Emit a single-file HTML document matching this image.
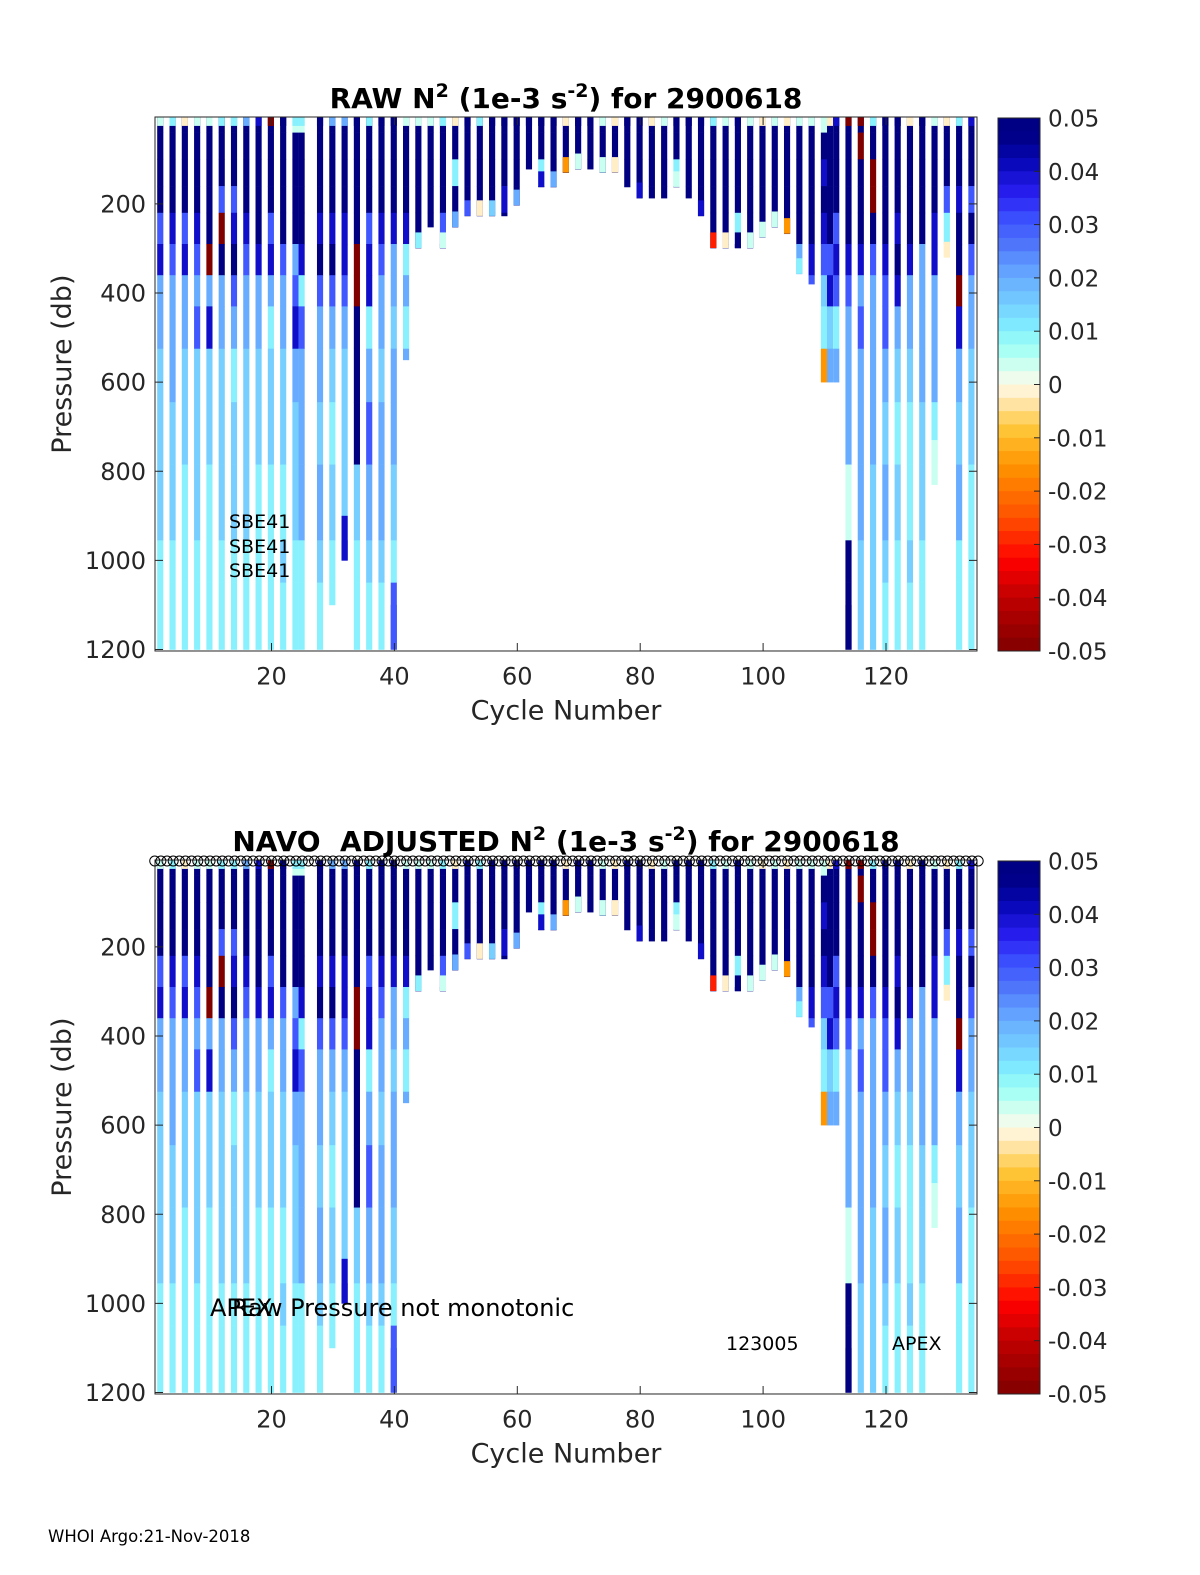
<!DOCTYPE html>
<html><head><meta charset="utf-8"><style>
html,body{margin:0;padding:0;background:#fff;}
svg{display:block;font-family:"DejaVu Sans","Liberation Sans",sans-serif;}
</style></head><body>
<svg id="fig" width="1200" height="1575" viewBox="0 0 1200 1575" xmlns="http://www.w3.org/2000/svg">
<text x="48" y="1542" font-size="16.5">WHOI Argo:21-Nov-2018</text>
</svg>
<script>
const cycles=[1,3,5,7,9,11,13,15,17,19,21,23,24,27,29,31,33,35,37,39,41,
43,45,47,49,51,53,55,57,59,61,63,65,67,69,71,73,75,77,79,81,83,85,87,89,91,93,95,97,99,101,103,105,107,
109,110,111,113,115,117,119,121,123,125,127,129,131,133];
const maxDepth=[1200,1200,1200,1200,1200,1200,1200,1200,1200,1200,1200,1200,1200,1200,1100,1000,1200,1200,1200,1200,550,
299,252,299,252,227,227,227,227,203,122,162,162,130,122,122,130,130,162,187,187,187,162,187,227,299,299,299,299,275,252,267,357,380,
600,600,600,1200,1200,1200,1200,1200,1200,1200,830,320,1200,1200];
const depthEdges=[5,40,100,160,220,290,360,430,525,645,785,955,1050,1200];
const profiles=["NNNNMBLLSSSCC","NNNNBMLLLSSCC","NNNNMBLLSSCCC","NNNNBMLMSSSCC","NNNNNDLBSSCCC","NNNMDNLLSSSCC",
"NNNMBNMLCSSCC","NNNNBMLLSSSCC","NNNNNBLLSSCCC","NNNNMBLCSSCCC","NNNNNMLLSSCSC","PNNNNLMBLSSCC","PNNNNBCMLLLCC",
"NNNNBNMLLSLSC","NNNNBNMLSCSCC","NNNNBBMLSSSBC","NNNNNDDNNNSCC","NNNNMBBCLMLSC","NNNNBMLLSLLSC","NNNNBLLSLLSCM","NNNNBCLCLLLLL",
"NNNNNNN","NNNNNNN","NNNNMNN","NNCNNNN","NNNNNNN","NNNNNNN","NNNNNNN","NNNBNNN","NNNNNNN","NNNNNNN","NNCNNNN",
"NNNNNNN","NNNNNNN","NNNNNNN","NNNNNNN","NNNNNNN","NNNNNNN","NNNNNNN","NNNNNNN","NNNNNNN","NNNNNNN","NNCNNNN",
"NNNNNNN","NNNNNNN","NNNNNNN","NNNNNNN","NNNNCNN","NNNNNNN","NNNNNNN","NNNNNNN","NNNNNNN","NNNNNLC","NNNNNBM",
"PNBNBMSCOOO","NNNNNMBSLLL","NNNNMBMCLLL","NNNNNBMLLLPNN","NDNNNBLMLLLSS","NNDDNMLLLLSSS","NNNNNBMMLSLSC",
"NNNNBNBLSCSCC","NNNNNBLLSCCSC","NNNNNLLLLSSCC","NNNNBBLLLCPPP","NNNMCWW","NNNBNNDBLSLCC","NNNMNMLLSSCCC"];
const bottomCodes=["-","-","-","-","-","-","-","-","-","-","-","-","-","-","-","B","-","-","-","M","-",
"C","-","P","L","M","W","S","-","L","-","B","L","O","P","-","P","W","-","B","-","-","P","-","B","R","W","N","P","P","P","O","C","-",
"-","-","-","N","-","-","-","-","-","-","P","W","-","-"];
const topCodes=["P","C","W","P","P","C","C","L","B","D","N","C","C","N","L","L","N","C","N","N","P",
"P","P","C","W","N","C","N","N","N","N","N","N","W","N","N","P","W","N","N","W","P","N","N","N","C","P","N","P","W","P","W","P","P",
"P","W","B","D","D","C","N","N","W","N","P","W","C","B"];
const qcCycles=[];for(let c=1;c<=135;c++)qcCycles.push(c);
const codeValues={N:0.05,B:0.04,M:0.03,L:0.02,S:0.015,C:0.01,P:0.004,W:-0.002,O:-0.015,R:-0.03,D:-0.05};
const cbTicks=[0.05,0.04,0.03,0.02,0.01,0,-0.01,-0.02,-0.03,-0.04,-0.05];
const cbTickLabels=["0.05","0.04","0.03","0.02","0.01","0","-0.01","-0.02","-0.03","-0.04","-0.05"];
const xTicks=[20,40,60,80,100,120];
const yTicks=[200,400,600,800,1000,1200];

const stops=[[-0.05,[128,0,0]],[-0.04,[192,0,0]],[-0.033,[255,0,0]],[-0.025,[255,80,0]],[-0.015,[255,150,0]],
[-0.008,[255,200,60]],[-0.003,[255,232,180]],[0,[255,250,235]],[0.003,[215,255,240]],[0.007,[160,255,245]],
[0.011,[128,236,255]],[0.016,[115,200,255]],[0.021,[100,165,255]],[0.026,[80,120,250]],[0.031,[60,80,255]],
[0.036,[40,30,240]],[0.041,[10,10,190]],[0.046,[0,0,140]],[0.05,[0,0,128]]];
function cmap(v){
  v=Math.max(-0.05,Math.min(0.05,v));
  for(let i=0;i<stops.length-1;i++){
    const a=stops[i],b=stops[i+1];
    if(v>=a[0]&&v<=b[0]){const t=(v-a[0])/(b[0]-a[0]||1);
      const c=a[1].map((x,k)=>Math.round(x+(b[1][k]-x)*t));return `rgb(${c[0]},${c[1]},${c[2]})`;}
  }
  return "rgb(0,0,128)";
}
const NS="http://www.w3.org/2000/svg";
const svg=document.getElementById('fig');
function el(tag,attrs,parent){const e=document.createElementNS(NS,tag);for(const k in attrs)e.setAttribute(k,attrs[k]);(parent||svg).appendChild(e);return e;}
const xs=c=>271.5+(c-20)*6.145;
const X0=155,X1=977;

function drawPanel(off,titleParts,key){
  const ys=p=>117+off+(p-5)*0.4456;
  const g=el('g',{});
  
  
  cycles.forEach((c,i)=>{
    const x=xs(c+0.4),w=6.145,md=maxDepth[i],prof=profiles[i];
    for(let j=0;j<depthEdges.length-1;j++){
      const p0=depthEdges[j];if(p0>=md)break;
      const p1=Math.min(depthEdges[j+1],md);
      const ch=prof[Math.min(j,prof.length-1)];
      const r=el('rect',{x:x.toFixed(2),y:ys(p0).toFixed(2),width:w.toFixed(2),height:(ys(p1)-ys(p0)+0.3).toFixed(2),fill:cmap(codeValues[ch])},g);
      
      
    }
    const tc=topCodes[i];
    const rt=el('rect',{x:x.toFixed(2),y:ys(5).toFixed(2),width:w.toFixed(2),height:(ys(25)-ys(5)).toFixed(2),fill:cmap(codeValues[tc])},g);
    
    
    const bc=bottomCodes[i];
    if(bc!=='-'){
      const pt=Math.max(5,md-(md>600?100:35));
      const r=el('rect',{x:x.toFixed(2),y:ys(pt).toFixed(2),width:w.toFixed(2),height:(ys(md)-ys(pt)).toFixed(2),fill:cmap(codeValues[bc])},g);
      
      
    }
  });
  const box=el('rect',{x:X0,y:ys(5),width:X1-X0,height:ys(1200)-ys(5)+1.5,fill:'none',stroke:'#262626','stroke-width':1});
  
  
  xTicks.forEach(t=>{
    const x=xs(t);
    el('line',{x1:x,x2:x,y1:ys(1200)+1.5,y2:ys(1200)-6.5,stroke:'#262626'});
    el('line',{x1:x,x2:x,y1:ys(5),y2:ys(5)+8,stroke:'#262626'});
    const tx=el('text',{x:x,y:ys(1200)+35,'font-size':24,'text-anchor':'middle',fill:'#262626'});
    tx.textContent=t;
    
    
  });
  yTicks.forEach(t=>{
    const y=ys(t);
    el('line',{x1:X0,x2:X0+8,y1:y,y2:y,stroke:'#262626'});
    el('line',{x1:X1-8,x2:X1,y1:y,y2:y,stroke:'#262626'});
    const tx=el('text',{x:146,y:y+8.5,'font-size':24,'text-anchor':'end',fill:'#262626'});
    tx.textContent=t;
    
    
  });
  const xl=el('text',{x:566,y:ys(1200)+70,'font-size':27,'text-anchor':'middle',fill:'#262626'});
  xl.textContent='Cycle Number';
  
  
  const yl=el('text',{x:0,y:0,'font-size':27,'text-anchor':'middle',fill:'#262626',transform:`translate(71,${ys(600)-18}) rotate(-90)`});
  yl.textContent='Pressure (db)';
  
  
  const ti=el('text',{x:566,y:off+108,'font-size':28,'font-weight':'bold','text-anchor':'middle',fill:'#000'});
  ti.setAttribute('xml:space','preserve');
  ti.style.whiteSpace='pre';
  
  
  titleParts.forEach(([s,sup])=>{const sp=el('tspan',sup?{'font-size':19,'baseline-shift':'super'}:{},ti);sp.textContent=s;});
  const cbTop=118+off,cbBot=651+off,cbx=998,cbw=42;
  const cbv=v=>cbTop+(0.05-v)/0.1*(cbBot-cbTop);
  const nb=40;
  for(let k=0;k<nb;k++){
    const v1=0.05-k*0.1/nb,v0=v1-0.1/nb;
    el('rect',{x:cbx,y:cbv(v1),width:cbw,height:cbv(v0)-cbv(v1)+0.5,fill:cmap((v0+v1)/2)});
  }
  const cb=el('rect',{x:cbx,y:cbTop,width:cbw,height:cbBot-cbTop,fill:'none',stroke:'#262626'});
  
  
  cbTicks.forEach((t,k)=>{
    const y=cbv(t);
    el('line',{x1:cbx+cbw-6,x2:cbx+cbw,y1:y,y2:y,stroke:'#262626'});
    const tx=el('text',{x:1048,y:y+8.5,'font-size':23,fill:'#262626'});
    tx.textContent=cbTickLabels[k];
    
    
  });
  return ys;
}
drawPanel(0,[['RAW N'],['2',true],[' (1e-3 s'],['-2',true],[') for 2900618']],'raw');
drawPanel(743,[['NAVO  ADJUSTED N'],['2',true],[' (1e-3 s'],['-2',true],[') for 2900618']],'adjusted');
qcCycles.forEach(c=>{
  const ci=el('circle',{cx:xs(c),cy:861,r:5,fill:'none',stroke:'#000','stroke-width':1});
  
  
});
[[229,528],[229,553],[229,577]].forEach(([x,y])=>{
  const t=el('text',{x:x,y:y,'font-size':19,fill:'#000'});
  t.textContent='SBE41';
  
  
});
[['APEX',210,1316,24],['Raw Pressure not monotonic',232,1316,24],['123005',726,1350,19],['APEX',892,1350,19]].forEach(([s,x,y,f])=>{
  const t=el('text',{x:x,y:y,'font-size':f,fill:'#000'});
  t.textContent=s;
  
  
});
</script>
</body></html>
